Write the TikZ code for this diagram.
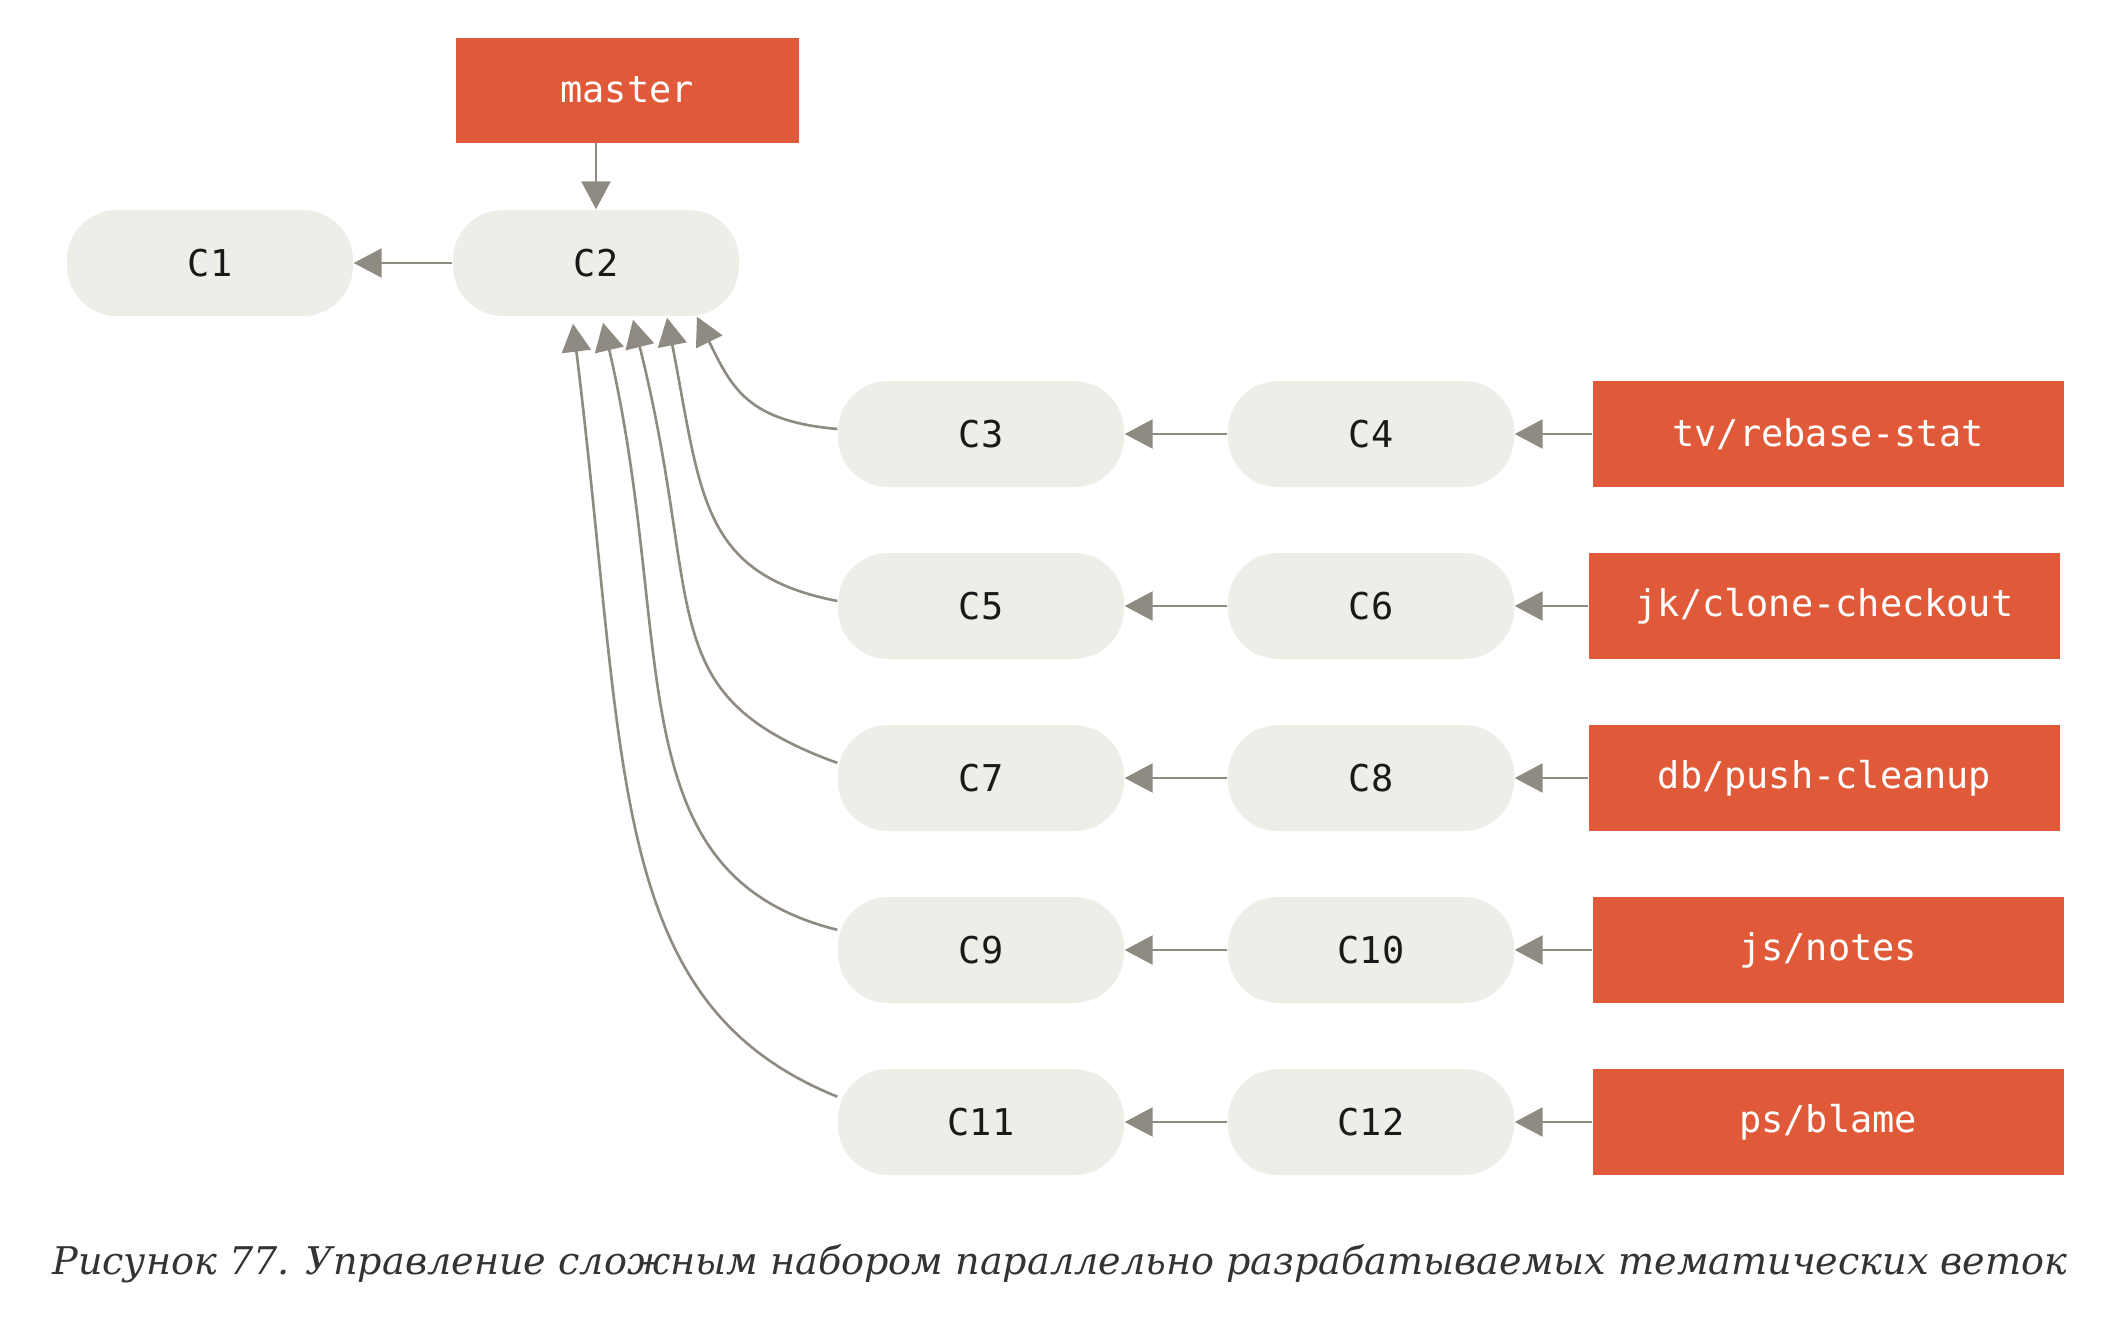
\documentclass[tikz,border=0pt]{standalone}
\usepackage{fontspec}
\setmonofont{DejaVu Sans Mono}
\newfontfamily\captionfont{DejaVu Serif}
\usetikzlibrary{arrows.meta,positioning,calc}
\definecolor{branchred}{HTML}{E05A3A}
\definecolor{commitfill}{HTML}{EEEDE8}
\definecolor{arrowgray}{HTML}{8F8B83}
\tikzset{
  commit/.style={fill=commitfill, rounded corners=5mm, minimum width=28.6mm,
    minimum height=10.6mm, inner sep=0pt, text=black!90,
    font=\ttfamily\fontsize{10.5}{12}\selectfont},
  branch/.style={fill=branchred, minimum width=47.1mm, minimum height=10.6mm,
    inner sep=0pt, text=white, font=\ttfamily\fontsize{10.5}{12}\selectfont},
  parent/.style={-{Triangle[length=2.8mm,width=2.9mm]}, draw=arrowgray,
    line width=0.75pt},
  caption/.style={font=\captionfont\itshape\fontsize{10.85}{13}\selectfont,
    text=black!80},
}

\begin{document}
\begin{tikzpicture}
  \useasboundingbox (0,0) rectangle (21.08,-13.22);

  \node[branch, minimum width=34.3mm, minimum height=10.5mm] (master) at (6.27,-0.90) {master};
  \node[commit] (C1) at (2.10,-2.63) {C1};
  \node[commit] (C2) at (5.96,-2.63) {C2};
  \draw[parent] (C2) -- (C1);
  \draw[parent] (master.south -| C2.north) -- (C2.north);

  % topic branches, one row each
  \node[commit] (C3) at (9.81,-4.34)  {C3};
  \node[commit] (C4) at (13.71,-4.34) {C4};
  \node[branch] (tv) at (18.28,-4.34) {tv/rebase-stat};

  \node[commit] (C5) at (9.81,-6.06)  {C5};
  \node[commit] (C6) at (13.71,-6.06) {C6};
  \node[branch] (jk) at (18.245,-6.06) {jk/clone-checkout};

  \node[commit] (C7) at (9.81,-7.78)  {C7};
  \node[commit] (C8) at (13.71,-7.78) {C8};
  \node[branch] (db) at (18.245,-7.78) {db/push-cleanup};

  \node[commit] (C9) at (9.81,-9.50)   {C9};
  \node[commit] (C10) at (13.71,-9.50) {C10};
  \node[branch] (js) at (18.28,-9.50)  {js/notes};

  \node[commit] (C11) at (9.81,-11.22)  {C11};
  \node[commit] (C12) at (13.71,-11.22) {C12};
  \node[branch] (ps) at (18.28,-11.22)  {ps/blame};

  \draw[parent] (tv) -- (C4);
  \draw[parent] (C4) -- (C3);
  \draw[parent] (jk) -- (C6);
  \draw[parent] (C6) -- (C5);
  \draw[parent] (db) -- (C8);
  \draw[parent] (C8) -- (C7);
  \draw[parent] (js) -- (C10);
  \draw[parent] (C10) -- (C9);
  \draw[parent] (ps) -- (C12);
  \draw[parent] (C12) -- (C11);

  % every topic branch forks off C2
  \draw[parent] (C3.178) to[out=175, in=-64, out distance=0.9cm, in distance=0.8cm]
    ([xshift=10.1mm]C2.south);
  \draw[parent] (C5.178) to[out=169, in=-79, out distance=1.4cm, in distance=1.8cm]
    ([xshift=7.1mm, yshift=-0.1mm]C2.south);
  \draw[parent] (C7.174) to[out=160, in=-76, out distance=2.0cm, in distance=3.0cm]
    ([xshift=3.7mm, yshift=-0.3mm]C2.south);
  \draw[parent] (C9.172) to[out=166, in=-77, out distance=2.3cm, in distance=3.3cm]
    ([xshift=0.7mm, yshift=-0.6mm]C2.south);
  \draw[parent] (C11.170) to[out=158, in=-83, out distance=2.5cm, in distance=4.5cm]
    ([xshift=-2.3mm, yshift=-0.7mm]C2.south);

  \node[caption] (caption) at (10.6,-12.64)
    {Рисунок 77. Управление сложным набором параллельно разрабатываемых тематических веток};
\end{tikzpicture}
\end{document}
